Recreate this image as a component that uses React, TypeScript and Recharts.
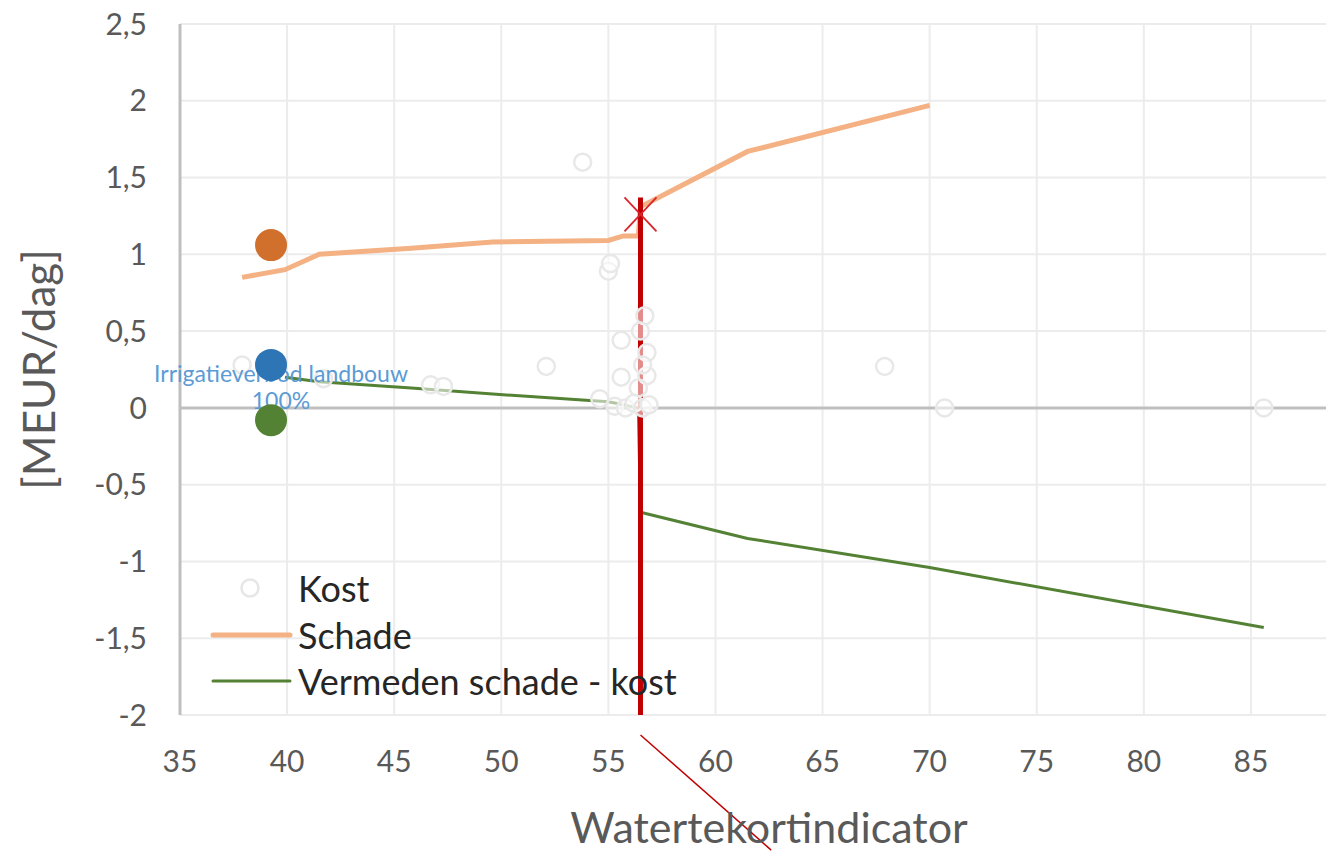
import React from "react";
import {
  ComposedChart,
  CartesianGrid,
  Line,
  Scatter,
  XAxis,
  YAxis,
  ReferenceLine,
  Legend,
} from "recharts";

const FONT = "Lato, 'Noto Sans', sans-serif";

// axis ticks
const xTicks = [35, 40, 45, 50, 55, 60, 65, 70, 75, 80, 85];
const yTicks = [-2, -1.5, -1, -0.5, 0, 0.5, 1, 1.5, 2, 2.5];

// Schade
const schadeX = [37.9, 39.9, 41.5, 45.8, 49.6, 55.0, 55.7, 56.4, 56.5, 61.5, 70.0];
const schadeY = [0.85, 0.9, 1.0, 1.04, 1.08, 1.09, 1.12, 1.12, 1.31, 1.67, 1.97];

// Vermeden schade - kost
const vermedenX = [39.9, 41.5, 45.8, 49.6, 55.0, 55.7, 56.4, 56.5, 61.5, 70.0, 85.6];
const vermedenY = [0.2, 0.17, 0.13, 0.09, 0.04, 0.02, 0.0, -0.68, -0.85, -1.04, -1.43];

// Kost
const kostX = [37.9, 41.7, 46.7, 47.3, 52.1, 53.8, 55.0, 55.1, 55.6, 55.6, 56.7, 56.5, 56.8, 56.8, 56.6, 56.4, 54.6, 55.3, 55.8, 56.2, 56.6, 56.9, 67.9, 70.7, 85.6];
const kostY = [0.28, 0.19, 0.15, 0.14, 0.27, 1.6, 0.89, 0.94, 0.44, 0.2, 0.6, 0.5, 0.36, 0.21, 0.28, 0.13, 0.06, 0.01, 0.0, 0.03, 0.0, 0.02, 0.27, 0.0, 0.0];

// Irrigatieverbod landbouw 100%
const irrigatieX = 39.25;
const irrigatieSchade = 1.06;
const irrigatieKost = 0.28;
const irrigatieVermeden = -0.08;
const irrigatieLabel = ["Irrigatieverbod landbouw", "100%"];

// gekozen punt
const keuzeX = 56.5;
const keuzeY = 1.26;
const keuzeLijn = [-2, 1.37];
const pijlX = [56.5, 62.6];
const pijlY = [-2.13, -2.88];

const legendItems = [
  { name: "Kost", type: "circle", color: "#e6e6e6" },
  { name: "Schade", type: "line", color: "#f4b183", width: 5 },
  { name: "Vermeden schade - kost", type: "line", color: "#548235", width: 3 },
];

const toPoints = (xs: number[], ys: number[]) => xs.map((x, i) => ({ x, y: ys[i] }));

const schadeData = toPoints(schadeX, schadeY);
const vermedenData = toPoints(vermedenX, vermedenY);
const kostData = toPoints(kostX, kostY);
const keuzeLijnData = keuzeLijn.map((y) => ({ x: keuzeX, y }));

const fmt = (v: number) => String(v).replace(".", ",");

const bigDot = (color: string) => (p: any) => (
  <circle cx={p.cx} cy={p.cy} r={16} fill={color} />
);

const kostDot = (p: any) => (
  <circle cx={p.cx} cy={p.cy} r={8.5} fill="#ffffff" fillOpacity={0.55} stroke="#e8e8e8" strokeWidth={2.5} />
);

const crossShape = (p: any) => (
  <g stroke="#d9262c" strokeWidth={1.8}>
    <line x1={p.cx - 16} y1={p.cy - 17} x2={p.cx + 16} y2={p.cy + 17} />
    <line x1={p.cx - 16} y1={p.cy + 17} x2={p.cx + 16} y2={p.cy - 17} />
  </g>
);

const labelShape = (p: any) => (
  <text x={p.cx + 10} y={p.cy + 17} textAnchor="middle" fill="#5b9bd5" fontSize={23} fontFamily={FONT}>
    <tspan x={p.cx + 10} dy={0}>{irrigatieLabel[0]}</tspan>
    <tspan x={p.cx + 10} dy={27}>{irrigatieLabel[1]}</tspan>
  </text>
);

const XTitle = (p: any) => {
  const vb = p.viewBox;
  return (
    <text x={vb.x + vb.width / 2} y={843} textAnchor="middle" fill="#595959" fontSize={43} fontFamily={FONT}>
      Watertekortindicator
    </text>
  );
};

const YTitle = (p: any) => {
  const vb = p.viewBox;
  const cy = vb.y + vb.height / 2;
  return (
    <text x={38} y={cy} textAnchor="middle" dominantBaseline="central" transform={`rotate(-90, 38, ${cy})`} fill="#595959" fontSize={44} fontFamily={FONT}>
      [MEUR/dag]
    </text>
  );
};

const renderLegend = () => (
  <div style={{ fontFamily: FONT }}>
    {legendItems.map((it) => (
      <div key={it.name} style={{ display: "flex", alignItems: "center", height: 46.5 }}>
        <svg width={98} height={20}>
          {it.type === "circle" ? (
            <circle cx={50} cy={10} r={8.5} fill="none" stroke={it.color} strokeWidth={2.5} />
          ) : (
            <line x1={13} y1={10} x2={90} y2={10} stroke={it.color} strokeWidth={it.width} strokeLinecap="round" />
          )}
        </svg>
        <span style={{ fontSize: 36, color: "#262626", lineHeight: "46px" }}>{it.name}</span>
      </div>
    ))}
  </div>
);

export default function App() {
  return (
    <div style={{ position: "absolute", left: 0, top: 0, width: 1326, height: 851, overflow: "hidden", background: "#fff" }}>
      <ComposedChart width={1360} height={851} margin={{ top: 24, right: 2, bottom: 36, left: 0 }}>
        <CartesianGrid stroke="#ececec" strokeWidth={2} />
        <XAxis
          type="number"
          dataKey="x"
          domain={[35, 90]}
          ticks={xTicks}
          tickLine={false}
          axisLine={false}
          tickSize={0}
          tickMargin={36}
          height={100}
          tick={{ fill: "#595959", fontSize: 30, fontFamily: FONT }}
          label={XTitle}
        />
        <YAxis
          type="number"
          dataKey="y"
          domain={[-2, 2.5]}
          ticks={yTicks}
          width={180}
          tickLine={false}
          tickSize={0}
          tickMargin={33}
          axisLine={{ stroke: "#bfbfbf", strokeWidth: 3 }}
          tickFormatter={fmt}
          tick={{ fill: "#595959", fontSize: 30, fontFamily: FONT }}
          label={YTitle}
        />
        <ReferenceLine y={0} stroke="#bfbfbf" strokeWidth={3} />
        <Line data={schadeData} dataKey="y" type="linear" stroke="#f4b183" strokeWidth={5} dot={false} isAnimationActive={false} />
        <Line data={vermedenData} dataKey="y" type="linear" stroke="#548235" strokeWidth={3} dot={false} isAnimationActive={false} />
        <Line data={keuzeLijnData} dataKey="y" type="linear" stroke="#c00000" strokeWidth={5} dot={false} isAnimationActive={false} />
        <ReferenceLine
          segment={[{ x: pijlX[0], y: pijlY[0] }, { x: pijlX[1], y: pijlY[1] }]}
          stroke="#c00000"
          strokeWidth={1.5}
          ifOverflow="visible"
        />
        <Scatter data={kostData} shape={kostDot} isAnimationActive={false} />
        <Scatter data={[{ x: keuzeX, y: keuzeY }]} shape={crossShape} isAnimationActive={false} />
        <Scatter data={[{ x: irrigatieX, y: irrigatieKost }]} shape={labelShape} isAnimationActive={false} />
        <Scatter data={[{ x: irrigatieX, y: irrigatieSchade }]} shape={bigDot("#d0702c")} isAnimationActive={false} />
        <Scatter data={[{ x: irrigatieX, y: irrigatieKost }]} shape={bigDot("#2e75b6")} isAnimationActive={false} />
        <Scatter data={[{ x: irrigatieX, y: irrigatieVermeden }]} shape={bigDot("#548235")} isAnimationActive={false} />
        <Legend
          layout="vertical"
          align="center"
          verticalAlign="middle"
          content={renderLegend}
          wrapperStyle={{ left: 200, top: 565, width: 600 }}
        />
      </ComposedChart>
    </div>
  );
}
